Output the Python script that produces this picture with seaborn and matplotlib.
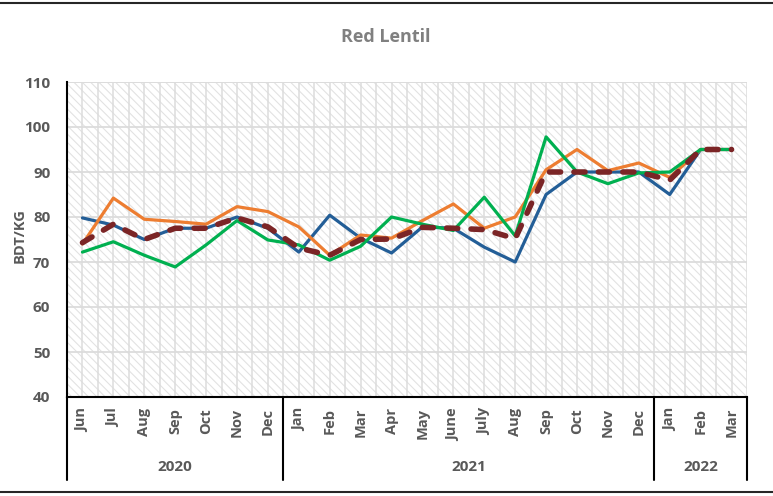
import matplotlib

matplotlib.use("Agg")
import matplotlib.pyplot as plt
import numpy as np
import pandas as pd
import seaborn as sns
from matplotlib.lines import Line2D
from matplotlib.patches import Rectangle


TITLE = "Red Lentil"
Y_LABEL = "BDT/KG"

MONTHS = [
    "Jun", "Jul", "Aug", "Sep", "Oct", "Nov", "Dec",
    "Jan", "Feb", "Mar", "Apr", "May", "June", "July", "Aug", "Sep", "Oct", "Nov", "Dec",
    "Jan", "Feb", "Mar",
]
YEARS = ["2020", "2021", "2022"]
YEAR_SIZES = [7, 12, 3]

SERIES_BLUE = [79.8, 78.2, 75.0, 77.5, 77.5, 80.0, 77.5, 72.2, 80.4, 75.3, 72.0,
               77.8, 77.5, 73.3, 70.0, 85.0, 90.0, 90.0, 90.0, 85.0, 95.0, 95.0]
SERIES_ORANGE = [74.0, 84.2, 79.5, 79.0, 78.4, 82.3, 81.2, 77.8, 71.5, 76.0, 75.3,
                 79.2, 82.9, 77.5, 80.0, 90.5, 95.0, 90.3, 92.0, 88.8, 95.0, 95.0]
SERIES_GREEN = [72.2, 74.5, 71.5, 68.9, 73.8, 79.2, 74.9, 73.8, 70.4, 73.5, 80.0,
                78.4, 77.0, 84.4, 75.8, 97.8, 90.0, 87.4, 89.8, 90.0, 95.0, 95.0]
SERIES_AVERAGE = [74.3, 78.4, 75.0, 77.5, 77.5, 79.8, 77.8, 73.1, 71.5, 75.0, 75.1,
                  77.7, 77.5, 77.2, 75.2, 90.0, 90.0, 90.0, 90.0, 88.2, 95.0, 95.0]

TEXT_DARK = "#595959"
TEXT_LIGHT = "#808080"
GRID = "#dcdcdc"


def main() -> None:
    sns.set_style("white")
    plt.rcParams["font.family"] = ["Open Sans", "DejaVu Sans"]
    plt.rcParams["hatch.linewidth"] = 0.8
    plt.rcParams["hatch.color"] = "#e2e2e2"

    pos = np.arange(len(MONTHS))
    df = pd.DataFrame({
        "pos": pos,
        "blue": SERIES_BLUE,
        "orange": SERIES_ORANGE,
        "green": SERIES_GREEN,
        "average": SERIES_AVERAGE,
    })

    fig = plt.figure(figsize=(7.73, 4.96), dpi=100)
    ax = fig.add_axes([67 / 773, 1 - 397 / 496, 680 / 773, 315 / 496])

    # patterned plot area
    ax.add_patch(Rectangle((0, 0), 1, 1, transform=ax.transAxes, facecolor="white",
                           edgecolor="#e2e2e2", hatch="\\\\\\\\", lw=0, zorder=0))

    sns.lineplot(data=df, x="pos", y="blue", ax=ax, color="#235E97", lw=2.3, zorder=3)
    sns.lineplot(data=df, x="pos", y="orange", ax=ax, color="#ED7D31", lw=2.3, zorder=3)
    sns.lineplot(data=df, x="pos", y="green", ax=ax, color="#00B050", lw=2.3, zorder=3)
    avg = sns.lineplot(data=df, x="pos", y="average", ax=ax, color="#7B2526", lw=4.0, zorder=4)
    avg.lines[-1].set_dashes((2.0, 2.4))
    avg.lines[-1].set_dash_capstyle("round")

    ax.set_xlim(-0.5, len(MONTHS) - 0.5)
    ax.set_ylim(40, 110)
    ax.set_yticks(np.arange(40, 111, 10))
    ax.set_xticks(pos)
    ax.set_xticklabels(MONTHS, rotation=90)
    ax.set_xticks(pos[:-1] + 0.5, minor=True)
    ax.set_xlabel("")
    ax.set_ylabel("")

    ax.grid(True, which="both", axis="x", color=GRID, lw=1.1, zorder=1)
    ax.grid(True, which="major", axis="y", color=GRID, lw=1.3, zorder=1)
    ax.set_axisbelow(True)
    ax.axhline(110, color=GRID, lw=1.3, zorder=1)
    ax.axvline(len(MONTHS) - 0.5, color=GRID, lw=1.1, zorder=1)

    ax.tick_params(axis="both", which="both", length=0)
    ax.tick_params(axis="x", pad=8, labelsize=10.5, labelcolor=TEXT_DARK)
    ax.tick_params(axis="y", pad=12, labelsize=11, labelcolor=TEXT_DARK)
    for lab in ax.get_xticklabels() + ax.get_yticklabels():
        lab.set_fontweight("bold")

    for side in ["top", "right"]:
        ax.spines[side].set_visible(False)
    for side in ["left", "bottom"]:
        ax.spines[side].set_color("black")
        ax.spines[side].set_linewidth(1.5)

    # multi-level category axis: separators and year labels
    trans = ax.get_xaxis_transform()
    depth = -(480 - 397) / 315
    edges = np.concatenate([[0], np.cumsum(YEAR_SIZES)]) - 0.5
    for edge in edges:
        ax.add_line(Line2D([edge, edge], [0, depth], transform=trans, color="black",
                           lw=1.5, clip_on=False))
    for year, start, end in zip(YEARS, edges[:-1], edges[1:]):
        ax.text((start + end) / 2, -(467 - 397) / 315, year, transform=trans,
                ha="center", va="center", fontsize=11, fontweight="bold", color=TEXT_DARK)

    fig.text(386 / 773, 1 - 37 / 496, TITLE, ha="center", va="center",
             fontsize=13, fontweight="bold", color=TEXT_LIGHT)
    fig.text(20 / 773, 1 - 236 / 496, Y_LABEL, ha="center", va="center", rotation=90,
             fontsize=10.5, fontweight="bold", color=TEXT_DARK)

    # chart frame lines at top and bottom
    for y in [1 - 3 / 496, 4 / 496]:
        fig.add_artist(Line2D([0, 1], [y, y], transform=fig.transFigure,
                              color="#262626", lw=1.5))

    fig.savefig("out.png", dpi=100)
    plt.close(fig)


if __name__ == "__main__":
    main()
